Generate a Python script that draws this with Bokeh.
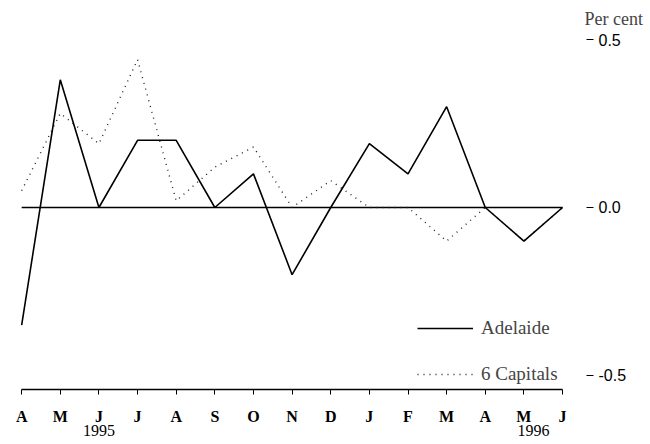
from bokeh.plotting import figure
from bokeh.models import (FixedTicker, NumeralTickFormatter, Legend, LegendItem,
                          Range1d, LinearAxis)
from bokeh.embed import file_html
from bokeh.resources import INLINE

# ---- data (monthly, Apr 1995 - Jun 1996) ----
months = ["A", "M", "J", "J", "A", "S", "O", "N", "D", "J", "F", "M", "A", "M", "J"]
adelaide = [-0.35, 0.38, 0.0, 0.2, 0.2, 0.0, 0.1, -0.2, 0.0, 0.19, 0.1, 0.3, 0.0, -0.1, 0.0]
capitals = [0.05, 0.28, 0.19, 0.44, 0.02, 0.12, 0.18, 0.0, 0.08, 0.0, 0.0, -0.1, 0.0, -0.1, 0.0]
years = ["1995", "1996"]
year_month_pos = [2, 13.25]
y_ticks = [-0.5, 0.0, 0.5]

idx = list(range(len(months)))
SERIF = "Liberation Serif"

p = figure(width=650, height=444, output_backend="svg", toolbar_location=None,
           x_range=Range1d(-0.03, 14.62), y_range=Range1d(-0.5417, 0.5268),
           y_axis_location="right",
           min_border_left=20, min_border_right=64, min_border_top=30, min_border_bottom=55)
p.xgrid.visible = False
p.ygrid.visible = False
p.outline_line_color = None
p.background_fill_color = "white"
p.border_fill_color = "white"

# "Per cent" unit caption at top right
p.title.text = "Per cent"
p.title.align = "left"
p.title.offset = 564
p.title.standoff = 4
p.title.text_font = SERIF
p.title.text_font_size = "18px"
p.title.text_font_style = "normal"

# zero reference line
p.line(idx, [0.0] * len(idx), line_color="black", line_width=1.5)

r_cap = p.line(idx, capitals, line_color="#222222", line_width=1.4, line_dash="1 5")
r_adel = p.line(idx, adelaide, line_color="black", line_width=1.6)

legend = Legend(items=[LegendItem(label="Adelaide", renderers=[r_adel]),
                       LegendItem(label="6 Capitals", renderers=[r_cap])],
                location=(397, 4), background_fill_alpha=0, border_line_color=None,
                glyph_width=56, glyph_height=20, label_height=20, label_standoff=8,
                spacing=24, padding=0, margin=0,
                label_text_font=SERIF, label_text_font_size="19px")
p.add_layout(legend)

# x axis: months
xa = p.xaxis[0]
xa.ticker = FixedTicker(ticks=idx)
xa.major_label_overrides = {i: m for i, m in enumerate(months)}
xa.bounds = (idx[0], idx[-1])
xa.axis_line_width = 1.5
xa.major_tick_out = 5
xa.major_tick_in = 0
xa.minor_tick_line_color = None
xa.major_label_standoff = 13
xa.major_label_text_font = SERIF
xa.major_label_text_font_style = "bold"
xa.major_label_text_font_size = "16px"
xa.major_label_text_color = "black"

# second x axis: years
ya2 = LinearAxis(ticker=FixedTicker(ticks=year_month_pos),
                 major_label_overrides=dict(zip(year_month_pos, years)),
                 axis_line_color=None, major_tick_line_color=None,
                 minor_tick_line_color=None, major_tick_out=0, major_tick_in=0,
                 major_label_standoff=-3, major_label_text_font=SERIF,
                 major_label_text_font_size="16px", major_label_text_color="black")
p.add_layout(ya2, "below")

# y axis (right)
ya = p.yaxis[0]
ya.ticker = FixedTicker(ticks=y_ticks)
ya.formatter = NumeralTickFormatter(format="0.0")
ya.axis_line_color = None
ya.major_tick_out = 7
ya.major_tick_in = 0
ya.major_tick_line_width = 1.2
ya.minor_tick_line_color = None
ya.major_label_standoff = 5
ya.major_label_text_font = "Liberation Sans"
ya.major_label_text_font_size = "16px"
ya.major_label_text_color = "black"

open("out.html", "w").write(file_html(p, INLINE))
